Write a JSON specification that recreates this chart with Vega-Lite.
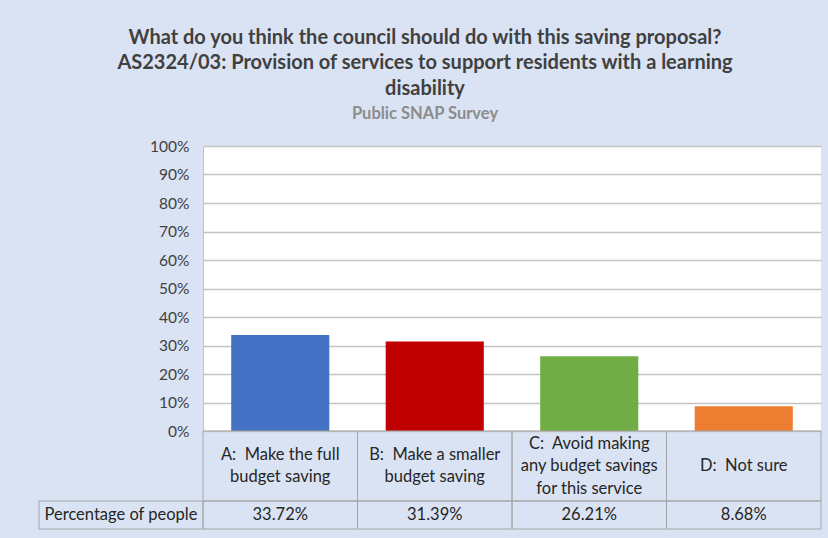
{
  "$schema": "https://vega.github.io/schema/vega-lite/v6.json",
  "background": "#dae3f3",
  "padding": {"left": 38, "right": 8, "top": 27, "bottom": 8},
  "title": {
    "text": ["What do you think the council should do with this saving proposal?", "AS2324/03:  Provision of services to support residents with a learning", "disability"],
    "subtitle": "Public SNAP Survey",
    "anchor": "middle",
    "dx": -5,
    "fontSize": 20,
    "lineHeight": 25.5,
    "font": "Lato",
    "fontWeight": "bold",
    "color": "#404040",
    "subtitleFont": "Lato",
    "subtitleFontSize": 16.5,
    "subtitleColor": "#8c8c8c",
    "subtitleFontWeight": "bold",
    "subtitlePadding": 7,
    "offset": 17
  },
  "datasets": {
    "survey": [
      {"cat": "A", "label": "A: \u00a0Make the full\nbudget saving", "pct": 0.3372},
      {"cat": "B", "label": "B: \u00a0Make a smaller\nbudget saving", "pct": 0.3139},
      {"cat": "C", "label": "C: \u00a0Avoid making\nany budget savings\nfor this service", "pct": 0.2621},
      {"cat": "D", "label": "D: \u00a0Not sure", "pct": 0.0868}
    ]
  },
  "columns": 2,
  "spacing": 0,
  "bounds": "flush",
  "concat": [
    {"width": 164, "height": 285, "data": {"values": []}, "mark": "text", "encoding": {}},
    {
      "width": 618,
      "height": 285,
      "data": {"name": "survey"},
      "view": {"fill": "white", "stroke": null},
      "mark": {"type": "bar", "width": {"band": 0.635}},
      "encoding": {
        "x": {"field": "cat", "type": "nominal", "scale": {"paddingInner": 0, "paddingOuter": 0}, "axis": null},
        "y": {
          "field": "pct",
          "type": "quantitative",
          "scale": {"domain": [0, 1]},
          "axis": {
            "format": "%",
            "values": [0, 0.1, 0.2, 0.3, 0.4, 0.5, 0.6, 0.7, 0.8, 0.9, 1],
            "grid": true,
            "gridColor": "#c4c4c4",
            "gridWidth": 1.5,
            "ticks": false,
            "domain": true,
            "domainColor": "#c0c0c0",
            "labelFontSize": 15.5,
            "labelColor": "#404040",
            "labelPadding": 14,
            "title": null
          }
        },
        "color": {
          "field": "cat",
          "type": "nominal",
          "scale": {"domain": ["A", "B", "C", "D"], "range": ["#4472c4", "#c00000", "#70ad47", "#ed7d31"]},
          "legend": null
        }
      }
    },
    {"width": 164, "height": 70, "data": {"values": []}, "mark": "text", "encoding": {}},
    {
      "width": 618,
      "height": 70,
      "data": {"name": "survey"},
      "encoding": {
        "x": {"field": "cat", "type": "nominal", "scale": {"paddingInner": 0, "paddingOuter": 0}, "axis": null}
      },
      "layer": [
        {"mark": {"type": "rect", "fill": "transparent", "stroke": "#a6a6a6", "strokeWidth": 1}},
        {
          "transform": [{"filter": "datum.cat === 'A' || datum.cat === 'B'"}],
          "mark": {"type": "text", "lineBreak": "\n", "fontSize": 16.5, "lineHeight": 22.5, "dy": -11.25, "color": "#262626"},
          "encoding": {"text": {"field": "label", "type": "nominal"}}
        },
        {
          "transform": [{"filter": "datum.cat === 'C'"}],
          "mark": {"type": "text", "lineBreak": "\n", "fontSize": 16.5, "lineHeight": 22.5, "dy": -22.5, "color": "#262626"},
          "encoding": {"text": {"field": "label", "type": "nominal"}}
        },
        {
          "transform": [{"filter": "datum.cat === 'D'"}],
          "mark": {"type": "text", "lineBreak": "\n", "fontSize": 16.5, "lineHeight": 22.5, "color": "#262626"},
          "encoding": {"text": {"field": "label", "type": "nominal"}}
        }
      ]
    },
    {
      "width": 164,
      "height": 28,
      "data": {"values": [{"row": "Percentage of people"}]},
      "encoding": {
        "x": {"field": "row", "type": "nominal", "scale": {"paddingInner": 0, "paddingOuter": 0}, "axis": null}
      },
      "layer": [
        {"mark": {"type": "rect", "fill": "transparent", "stroke": "#a6a6a6", "strokeWidth": 1}},
        {
          "mark": {"type": "text", "fontSize": 16.5, "color": "#262626"},
          "encoding": {"text": {"field": "row", "type": "nominal"}}
        }
      ]
    },
    {
      "width": 618,
      "height": 28,
      "data": {"name": "survey"},
      "encoding": {
        "x": {"field": "cat", "type": "nominal", "scale": {"paddingInner": 0, "paddingOuter": 0}, "axis": null}
      },
      "layer": [
        {"mark": {"type": "rect", "fill": "transparent", "stroke": "#a6a6a6", "strokeWidth": 1}},
        {
          "mark": {"type": "text", "fontSize": 16.5, "color": "#262626"},
          "encoding": {"text": {"field": "pct", "type": "quantitative", "format": ".2%"}}
        }
      ]
    }
  ],
  "config": {
    "view": {"stroke": null},
    "font": "Lato"
  }
}
